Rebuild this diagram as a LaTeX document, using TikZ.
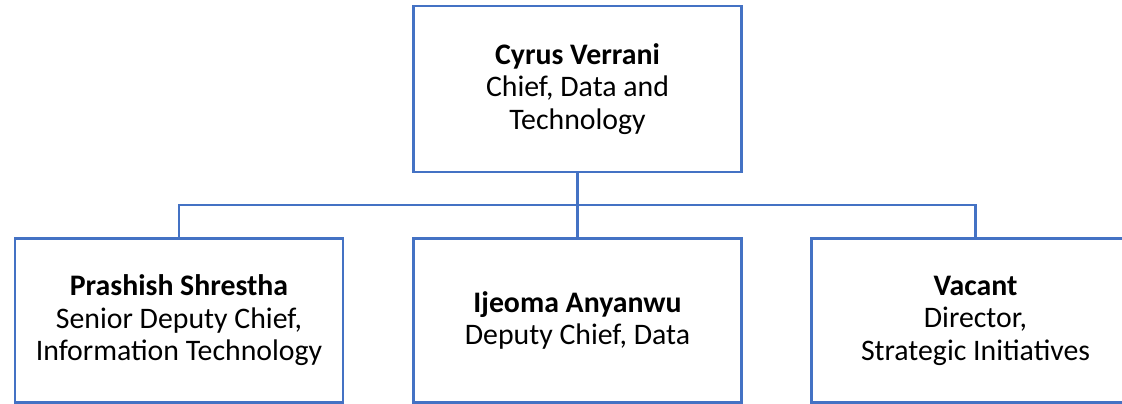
\documentclass[tikz,border=0pt]{standalone}
\usepackage{fontspec}
\setmainfont{Carlito}
\definecolor{boxblue}{HTML}{4472C4}
\tikzset{
  orgbox/.style={draw=boxblue, line width=2.6pt, fill=white, rectangle,
    minimum width=328pt, minimum height=164pt, align=center, inner sep=0pt,
    font=\fontsize{29.8}{32.5}\selectfont, text=black},
  link/.style={draw=boxblue, line width=2.6pt}
}
\begin{document}
\begin{tikzpicture}[x=1pt,y=-1pt]
\clip (0,0) rectangle (1122,404);
\fill[white] (0,0) rectangle (1122,404);
\node[orgbox, minimum height=166pt] (top) at (577.5,89) {\textbf{Cyrus Verrani}\\Chief, Data and\\Technology};
\node[orgbox] (left) at (179,320.5) {\textbf{Prashish Shrestha}\\Senior Deputy Chief,\\Information Technology};
\node[orgbox] (mid) at (577.5,320.5) {\textbf{Ijeoma Anyanwu}\\Deputy Chief, Data};
\node[orgbox] (right) at (975.5,320.5) {\textbf{Vacant}\\Director,\\Strategic Initiatives};
\coordinate (bus) at (577.5,205);
\draw[link] (top.south) -- (bus);
\draw[link] (bus) -| (left.north);
\draw[link] (bus) -| (right.north);
\draw[link] (bus) -- (mid.north);
\end{tikzpicture}
\end{document}
